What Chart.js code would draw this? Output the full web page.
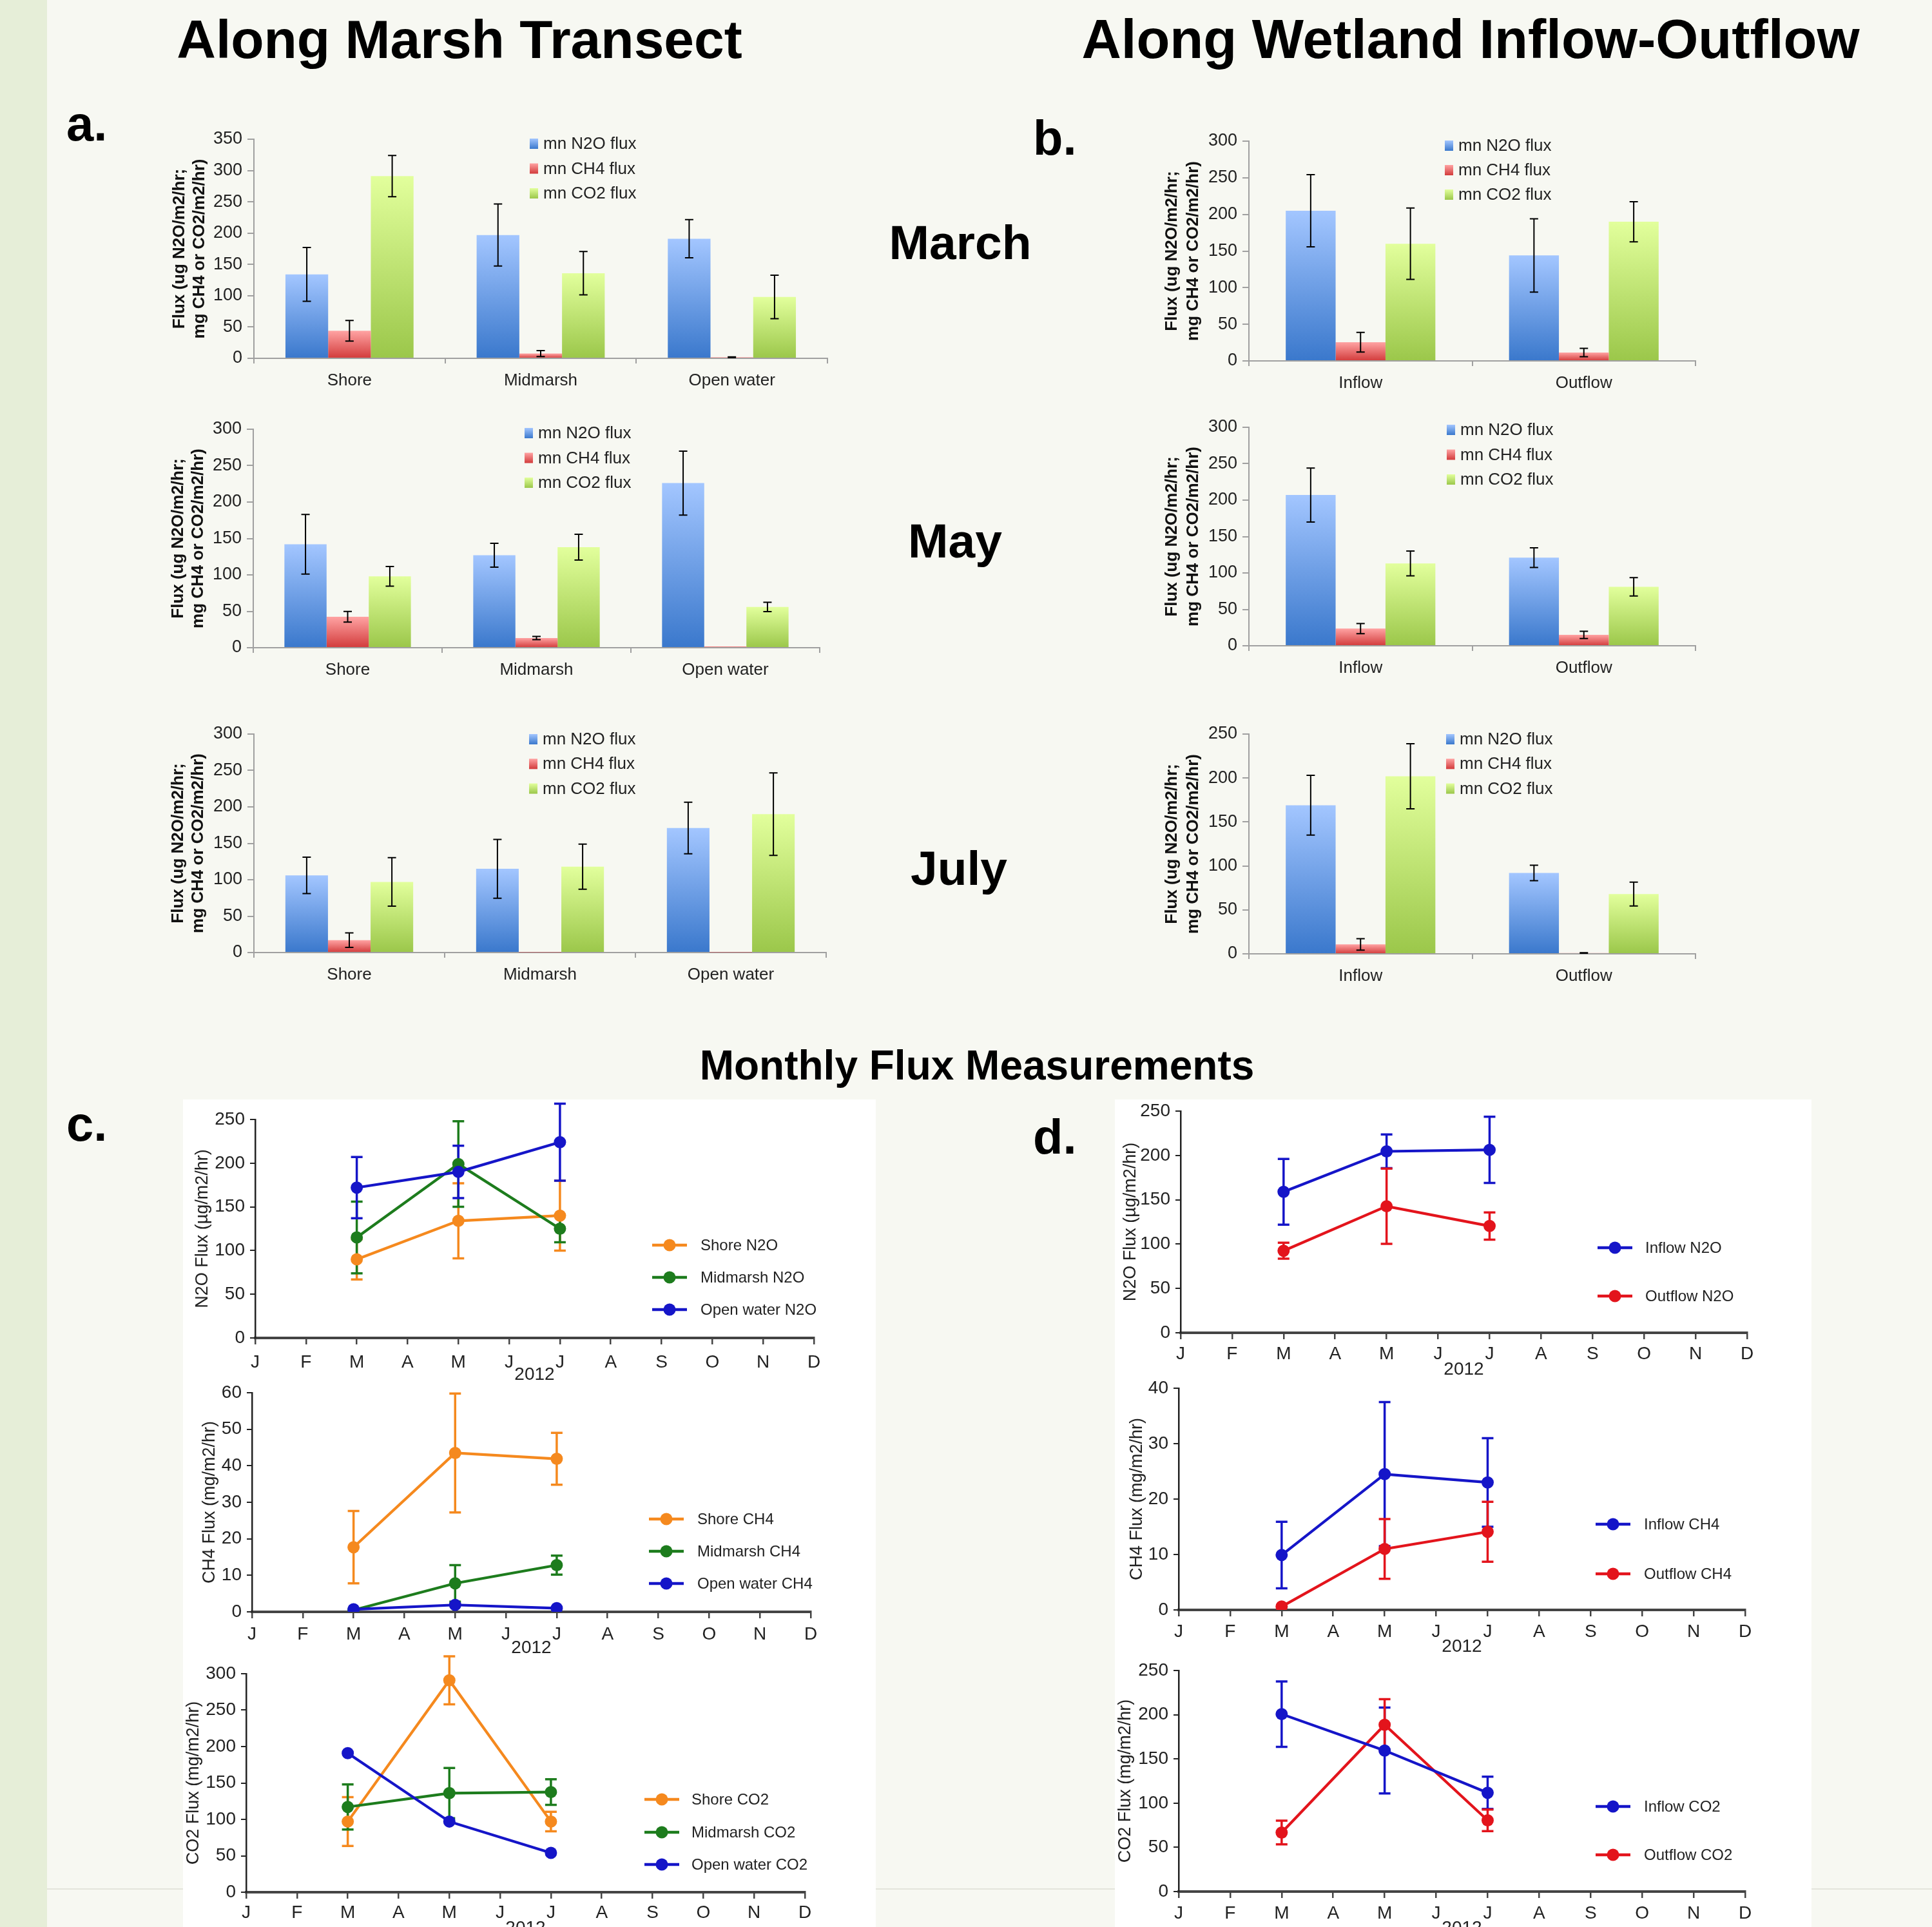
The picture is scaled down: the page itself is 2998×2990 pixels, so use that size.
<!DOCTYPE html>
<html><head><meta charset="utf-8">
<script src="https://cdn.jsdelivr.net/npm/chart.js@4.4.1/dist/chart.umd.min.js"></script>
<style>
html,body{margin:0;padding:0;}
body{width:2998px;height:2990px;background:#f7f8f2;position:relative;overflow:hidden;font-family:"Liberation Sans",Arial,sans-serif;}
.strip{position:absolute;left:0;top:0;width:73px;height:2990px;background:#e6eed8;}
.hline{position:absolute;left:73px;top:2930px;width:2925px;height:2px;background:#e3e5dc;}
.panel{position:absolute;background:#ffffff;}
.t{position:absolute;white-space:nowrap;font-weight:bold;color:#000;line-height:1;}
canvas{position:absolute;}
</style></head><body>
<div class="strip"></div>
<div class="hline"></div>
<div class="panel" style="left:284px;top:1706px;width:1075px;height:1290px;"></div>
<div class="panel" style="left:1730px;top:1706px;width:1081px;height:1290px;"></div>
<script>
// ---------------- DATA ----------------
const marshSites = ['Shore', 'Midmarsh', 'Open water'];
const flowSites = ['Inflow', 'Outflow'];
const barSeriesNames = ['mn N2O flux', 'mn CH4 flux', 'mn CO2 flux'];
const barAxisTitle = ['Flux (ug N2O/m2/hr;', 'mg CH4 or CO2/m2/hr)'];

// a. Along marsh transect
const marMarshN2O = [134, 197, 191];   const marMarshN2OErr = [43, 49.5, 30.5];
const marMarshCH4 = [44, 7.6, 1.7];    const marMarshCH4Err = [16.5, 4.8, 0.5];
const marMarshCO2 = [291, 136, 98];    const marMarshCO2Err = [33, 34.5, 34.7];

const mayMarshN2O = [142, 127, 226];   const mayMarshN2OErr = [41, 16.4, 44];
const mayMarshCH4 = [42.5, 13.3, 1.8]; const mayMarshCH4Err = [7.3, 2.2, 0];
const mayMarshCO2 = [98, 138, 56];     const mayMarshCO2Err = [13.5, 17.7, 6.5];

const julMarshN2O = [106, 115, 171];   const julMarshN2OErr = [25, 40.4, 35.4];
const julMarshCH4 = [17, 0.4, 0.4];    const julMarshCH4Err = [9.9, 0, 0];
const julMarshCO2 = [97, 118, 190];    const julMarshCO2Err = [33.3, 31, 56.6];

// b. Along wetland inflow-outflow
const marFlowN2O = [205, 144];   const marFlowN2OErr = [49.3, 50];
const marFlowCH4 = [25.5, 11.4]; const marFlowCH4Err = [13.5, 5.7];
const marFlowCO2 = [160, 190];   const marFlowCO2Err = [48.7, 27.4];

const mayFlowN2O = [207, 121];   const mayFlowN2OErr = [37, 13.5];
const mayFlowCH4 = [23.6, 15];   const mayFlowCH4Err = [7, 5];
const mayFlowCO2 = [113, 81];    const mayFlowCO2Err = [17, 12.6];

const julFlowN2O = [169, 92];    const julFlowN2OErr = [34, 8.8];
const julFlowCH4 = [10.8, 1];    const julFlowCH4Err = [6.5, 0.3];
const julFlowCO2 = [202, 68];    const julFlowCO2Err = [37, 13.5];

// c./d. Monthly flux measurements (2012)
const monthLetters = ['J','F','M','A','M','J','J','A','S','O','N','D'];
const sampleMonths = [2, 4, 6]; // March, May, July

const shoreN2O = [90, 134, 140];      const shoreN2OErr = [23, 43, 40];
const midN2O = [115, 199, 125];       const midN2OErr = [41, 49, 15.5];
const openN2O = [172, 190, 224];      const openN2OErr = [35, 30, 44];

const shoreCH4 = [17.7, 43.5, 41.9];  const shoreCH4Err = [9.9, 16.3, 7.1];
const midCH4 = [0.5, 7.8, 12.8];      const midCH4Err = [0, 5, 2.6];
const openCH4 = [0.7, 1.9, 1.0];      const openCH4Err = [0, 0, 0];

const shoreCO2 = [97, 291, 97];       const shoreCO2Err = [33.5, 33, 13.4];
const midCO2 = [117, 136, 137.5];     const midCO2Err = [31, 34.5, 17.6];
const openCO2 = [191, 97, 54];        const openCO2Err = [0, 0, 0];

const inflowN2O = [159, 204.6, 206.3];  const inflowN2OErr = [37, 19, 37.4];
const outflowN2O = [92.5, 142.7, 120.4]; const outflowN2OErr = [9, 42.4, 15.4];

const inflowCH4 = [9.9, 24.5, 23];     const inflowCH4Err = [6, 13, 8];
const outflowCH4 = [0.6, 11, 14.1];    const outflowCH4Err = [0, 5.4, 5.4];

const inflowCO2 = [200.7, 159.5, 111.7]; const inflowCO2Err = [37, 48.5, 18.2];
const outflowCO2 = [66.7, 188.6, 80.6];  const outflowCO2Err = [13.4, 29, 12.2];

// ---------------- STYLE ----------------
const FONT = '"Liberation Sans", Arial, sans-serif';
Chart.defaults.font.family = FONT;
Chart.defaults.animation = false;
Chart.defaults.plugins.legend.display = false;
Chart.defaults.plugins.tooltip.enabled = false;

const barColors = [['#a3c6ff', '#3a78cc'], ['#ffa3a3', '#d23b3b'], ['#e2ff9c', '#9bc74a']];
const ORANGE = '#f5891e', GREEN = '#1d7c1d', BLUE = '#1515c8', RED = '#e3141c';

function addCanvas(left, top, width, height) {
  const c = document.createElement('canvas');
  c.width = Math.round(width); c.height = Math.round(height);
  c.style.left = left + 'px'; c.style.top = top + 'px';
  document.body.appendChild(c);
  return c;
}

function label(text, size, x, baseline, center) {
  const d = document.createElement('div');
  d.className = 't';
  d.textContent = text;
  d.style.fontSize = size + 'px';
  d.style.top = (baseline - 0.8465 * size) + 'px';
  d.style.left = x + 'px';
  if (center) d.style.transform = 'translateX(-50%)';
  document.body.appendChild(d);
}

function gradFill(top, bottom) {
  return (ctx) => {
    const chart = ctx.chart;
    const ys = chart.scales && chart.scales.y;
    if (!ys || !chart.chartArea || ctx.type !== 'data') return bottom;
    const v = ctx.raw;
    const y1 = ys.getPixelForValue(v), y0 = ys.getPixelForValue(0);
    if (!isFinite(y1) || Math.abs(y0 - y1) < 1) return bottom;
    const g = chart.ctx.createLinearGradient(0, y1, 0, y0);
    g.addColorStop(0, top); g.addColorStop(1, bottom);
    return g;
  };
}

function drawErrors(chart, behind) {
  const ctx = chart.ctx, ys = chart.scales.y;
  chart.data.datasets.forEach((ds, i) => {
    if (!ds.errors || !!ds.errorsBehind !== behind) return;
    const meta = chart.getDatasetMeta(i);
    meta.data.forEach((el, j) => {
      const e = ds.errors[j];
      if (!e) return;
      const raw = ds.data[j];
      const v = (typeof raw === 'object') ? raw.y : raw;
      const x = el.x;
      const yt = ys.getPixelForValue(v + e), yb = ys.getPixelForValue(v - e);
      const h = ds.capWidth / 2;
      ctx.save();
      ctx.strokeStyle = ds.errorColor; ctx.lineWidth = ds.errorWidth;
      ctx.beginPath();
      ctx.moveTo(x, yt); ctx.lineTo(x, yb);
      ctx.moveTo(x - h, yt); ctx.lineTo(x + h, yt);
      ctx.moveTo(x - h, yb); ctx.lineTo(x + h, yb);
      ctx.stroke();
      ctx.restore();
    });
  });
}
const errorBarPlugin = {
  id: 'errbars',
  beforeDatasetsDraw(chart) { drawErrors(chart, true); },
  afterDatasetsDraw(chart) { drawErrors(chart, false); }
};
Chart.register(errorBarPlugin);

// ---------------- BAR CHARTS ----------------
function makeBarChart(cfg) {
  const A = cfg.area;
  const left = Math.round(cfg.titleX - cfg.titleLH / 2);
  const top = Math.round(A.T - 45);
  const right = Math.round(A.R + 30);
  const bottom = Math.round(A.B + 60);
  const c = addCanvas(left, top, right - left, bottom - top);
  const legendPlugin = {
    id: 'blegend',
    afterDraw(chart) {
      const ctx = chart.ctx;
      barSeriesNames.forEach((n, i) => {
        const x = cfg.legend.x - left, y = cfg.legend.y + i * cfg.legend.dy - top;
        const g = ctx.createLinearGradient(0, y - 8, 0, y + 8);
        g.addColorStop(0, barColors[i][0]); g.addColorStop(1, barColors[i][1]);
        ctx.fillStyle = g;
        ctx.fillRect(x, y - 8, 13, 16);
        ctx.fillStyle = '#222';
        ctx.font = '26px ' + FONT;
        ctx.textBaseline = 'middle';
        ctx.textAlign = 'left';
        ctx.fillText(n, x + 21, y + 1);
      });
    }
  };
  const sets = cfg.vals.map((v, i) => ({
    label: barSeriesNames[i],
    data: v,
    errors: cfg.errs[i],
    errorColor: '#000', errorWidth: 2, capWidth: 13,
    backgroundColor: gradFill(barColors[i][0], barColors[i][1]),
    borderWidth: 0
  }));
  new Chart(c, {
    type: 'bar',
    data: { labels: cfg.cats, datasets: sets },
    options: {
      responsive: false,
      layout: { padding: { left: 0, top: A.T - top, right: right - A.R, bottom: 0 } },
      datasets: { bar: { categoryPercentage: 0.67, barPercentage: 1.0 } },
      scales: {
        x: {
          offset: true,
          grid: { offset: true, drawOnChartArea: false, tickLength: 8, color: '#a0a0a0', lineWidth: 2 },
          border: { color: '#a0a0a0', width: 2 },
          ticks: { font: { size: 26 }, color: '#222', padding: 11, maxRotation: 0, minRotation: 0 },
          afterFit: (s) => { s.height = bottom - A.B; }
        },
        y: {
          min: 0, max: cfg.yMax,
          ticks: { stepSize: 50, font: { size: 27 }, color: '#222', padding: 8 },
          grid: { drawOnChartArea: false, tickLength: 10, color: '#a0a0a0', lineWidth: 2 },
          border: { color: '#a0a0a0', width: 2 },
          title: { display: true, text: barAxisTitle, font: { size: 26, weight: 'bold', lineHeight: cfg.titleLH / 26 }, color: '#111', padding: 0 },
          afterFit: (s) => { s.width = A.L - left; }
        }
      }
    },
    plugins: [legendPlugin]
  });
}

makeBarChart({ area: { L: 394, T: 216, R: 1284, B: 556 }, titleX: 279, titleLH: 31.2, cats: marshSites,
  vals: [marMarshN2O, marMarshCH4, marMarshCO2], errs: [marMarshN2OErr, marMarshCH4Err, marMarshCO2Err],
  yMax: 350, legend: { x: 822, y: 223, dy: 38.5 } });
makeBarChart({ area: { L: 393, T: 666, R: 1272, B: 1005 }, titleX: 277, titleLH: 31.2, cats: marshSites,
  vals: [mayMarshN2O, mayMarshCH4, mayMarshCO2], errs: [mayMarshN2OErr, mayMarshCH4Err, mayMarshCO2Err],
  yMax: 300, legend: { x: 814, y: 672, dy: 38.5 } });
makeBarChart({ area: { L: 394, T: 1139, R: 1282, B: 1478 }, titleX: 277, titleLH: 31.2, cats: marshSites,
  vals: [julMarshN2O, julMarshCH4, julMarshCO2], errs: [julMarshN2OErr, julMarshCH4Err, julMarshCO2Err],
  yMax: 300, legend: { x: 821, y: 1147, dy: 38.3 } });
makeBarChart({ area: { L: 1938, T: 219, R: 2631, B: 560 }, titleX: 1818, titleLH: 33, cats: flowSites,
  vals: [marFlowN2O, marFlowCH4, marFlowCO2], errs: [marFlowN2OErr, marFlowCH4Err, marFlowCO2Err],
  yMax: 300, legend: { x: 2242, y: 226, dy: 38 } });
makeBarChart({ area: { L: 1938, T: 663, R: 2631, B: 1002 }, titleX: 1818, titleLH: 33, cats: flowSites,
  vals: [mayFlowN2O, mayFlowCH4, mayFlowCO2], errs: [mayFlowN2OErr, mayFlowCH4Err, mayFlowCO2Err],
  yMax: 300, legend: { x: 2245, y: 667, dy: 38.5 } });
makeBarChart({ area: { L: 1938, T: 1139, R: 2631, B: 1480 }, titleX: 1818, titleLH: 33, cats: flowSites,
  vals: [julFlowN2O, julFlowCH4, julFlowCO2], errs: [julFlowN2OErr, julFlowCH4Err, julFlowCO2Err],
  yMax: 250, legend: { x: 2244, y: 1147, dy: 38.3 } });

// ---------------- LINE CHARTS ----------------
function series(name, vals, errs, color, order) {
  return {
    label: name,
    data: vals.map((v, i) => ({ x: sampleMonths[i], y: v })),
    errors: errs, errorsBehind: true, errorColor: color, errorWidth: 3.5, capWidth: 18,
    borderColor: color, backgroundColor: color, borderWidth: 4.2,
    pointRadius: 9.5, pointBorderWidth: 0, pointBackgroundColor: color,
    order: order, tension: 0
  };
}

function makeLineChart(cfg) {
  const A = cfg.area;
  const left = Math.round(cfg.titleX - 16.2);
  const top = Math.round(A.T - 50);
  const right = Math.round(A.R + 40);
  const bottom = Math.round(cfg.xTitleY + 16.8);
  const c = addCanvas(left, top, right - left, bottom - top);
  const legendPlugin = {
    id: 'llegend',
    afterDraw(chart) {
      const ctx = chart.ctx;
      chart.data.datasets.forEach((ds, i) => {
        const x = cfg.legend.x - left, y = cfg.legend.ys[i] - top;
        ctx.save();
        ctx.strokeStyle = ds.borderColor; ctx.lineWidth = 4.5;
        ctx.beginPath(); ctx.moveTo(x, y); ctx.lineTo(x + 54, y); ctx.stroke();
        ctx.fillStyle = ds.borderColor;
        ctx.beginPath(); ctx.arc(x + 27, y, 9.5, 0, Math.PI * 2); ctx.fill();
        ctx.fillStyle = '#222';
        ctx.font = '24px ' + FONT;
        ctx.textBaseline = 'middle'; ctx.textAlign = 'left';
        ctx.fillText(ds.label, cfg.legend.tx - left, y + 1);
        ctx.restore();
      });
    }
  };
  new Chart(c, {
    type: 'line',
    data: { datasets: cfg.datasets },
    options: {
      responsive: false,
      layout: { padding: { left: 0, top: A.T - top, right: right - A.R, bottom: 0 } },
      scales: {
        x: {
          type: 'linear', min: 0, max: 11,
          ticks: { stepSize: 1, autoSkip: false, maxRotation: 0, minRotation: 0,
            callback: (v) => monthLetters[v], font: { size: 28 }, color: '#222', padding: cfg.xPad },
          grid: { drawOnChartArea: false, tickLength: 10, color: '#444', lineWidth: 2.5 },
          border: { color: '#444', width: 4 },
          title: { display: true, text: '2012', font: { size: 28 }, color: '#222', padding: 0 },
          afterFit: (s) => { s.height = bottom - A.B; }
        },
        y: {
          min: 0, max: cfg.yMax,
          ticks: { stepSize: cfg.step, font: { size: 28 }, color: '#222', padding: 8 },
          grid: { drawOnChartArea: false, tickLength: 8, color: '#222', lineWidth: 2 },
          border: { color: '#222', width: 2.5 },
          title: { display: true, text: cfg.title, font: { size: 27 }, color: '#222', padding: 0 },
          afterFit: (s) => { s.width = A.L - left; }
        }
      }
    },
    plugins: [legendPlugin]
  });
}

makeLineChart({ area: { L: 396, T: 1737, R: 1263, B: 2076 }, titleX: 314, xTitleY: 2133, xPad: 11,
  yMax: 250, step: 50, title: 'N2O Flux (µg/m2/hr)',
  datasets: [series('Shore N2O', shoreN2O, shoreN2OErr, ORANGE, 2),
             series('Midmarsh N2O', midN2O, midN2OErr, GREEN, 1),
             series('Open water N2O', openN2O, openN2OErr, BLUE, 0)],
  legend: { x: 1012, tx: 1087, ys: [1932, 1982, 2032] } });
makeLineChart({ area: { L: 391, T: 2161, R: 1258, B: 2501 }, titleX: 325, xTitleY: 2557, xPad: 8,
  yMax: 60, step: 10, title: 'CH4 Flux (mg/m2/hr)',
  datasets: [series('Shore CH4', shoreCH4, shoreCH4Err, ORANGE, 2),
             series('Midmarsh CH4', midCH4, midCH4Err, GREEN, 1),
             series('Open water CH4', openCH4, openCH4Err, BLUE, 0)],
  legend: { x: 1007, tx: 1082, ys: [2357, 2407, 2457] } });
makeLineChart({ area: { L: 382, T: 2597, R: 1249, B: 2936 }, titleX: 300, xTitleY: 2992, xPad: 5,
  yMax: 300, step: 50, title: 'CO2 Flux (mg/m2/hr)',
  datasets: [series('Shore CO2', shoreCO2, shoreCO2Err, ORANGE, 2),
             series('Midmarsh CO2', midCO2, midCO2Err, GREEN, 1),
             series('Open water CO2', openCO2, openCO2Err, BLUE, 0)],
  legend: { x: 1000, tx: 1073, ys: [2792, 2843, 2893] } });
makeLineChart({ area: { L: 1832, T: 1724, R: 2711, B: 2068 }, titleX: 1754, xTitleY: 2125, xPad: 6,
  yMax: 250, step: 50, title: 'N2O Flux (µg/m2/hr)',
  datasets: [series('Inflow N2O', inflowN2O, inflowN2OErr, BLUE, 0),
             series('Outflow N2O', outflowN2O, outflowN2OErr, RED, 1)],
  legend: { x: 2479, tx: 2553, ys: [1936, 2011] } });
makeLineChart({ area: { L: 1829, T: 2154, R: 2708, B: 2498 }, titleX: 1764, xTitleY: 2555, xPad: 7,
  yMax: 40, step: 10, title: 'CH4 Flux (mg/m2/hr)',
  datasets: [series('Inflow CH4', inflowCH4, inflowCH4Err, BLUE, 0),
             series('Outflow CH4', outflowCH4, outflowCH4Err, RED, 1)],
  legend: { x: 2476, tx: 2551, ys: [2365, 2442] } });
makeLineChart({ area: { L: 1829, T: 2592, R: 2708, B: 2935 }, titleX: 1746, xTitleY: 2992, xPad: 7,
  yMax: 250, step: 50, title: 'CO2 Flux (mg/m2/hr)',
  datasets: [series('Inflow CO2', inflowCO2, inflowCO2Err, BLUE, 0),
             series('Outflow CO2', outflowCO2, outflowCO2Err, RED, 1)],
  legend: { x: 2476, tx: 2551, ys: [2803, 2878] } });

// ---------------- TEXT ----------------
label('Along Marsh Transect', 84, 713, 90, true);
label('Along Wetland Inflow-Outflow', 85, 2282, 90, true);
label('a.', 76, 103, 218, false);
label('b.', 76, 1603, 240, false);
label('March', 75, 1490, 402, true);
label('May', 75, 1482, 865, true);
label('July', 75, 1488, 1373, true);
label('Monthly Flux Measurements', 64, 1516, 1675, true);
label('c.', 76, 103, 1770, false);
label('d.', 76, 1603, 1790, false);
</script>
</body></html>
